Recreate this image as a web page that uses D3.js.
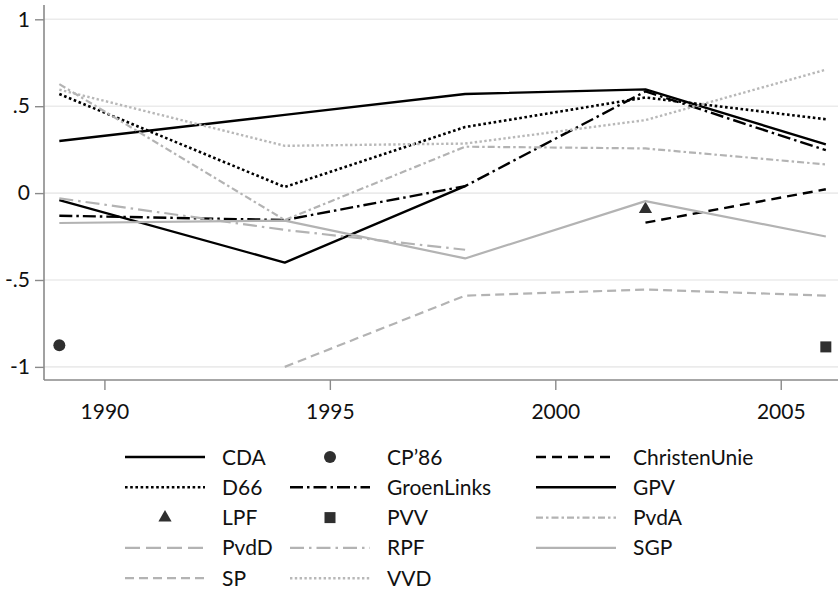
<!DOCTYPE html>
<html><head><meta charset="utf-8">
<script src="https://cdn.jsdelivr.net/npm/d3@7"></script>
<style>body{margin:0;background:#fff}svg{display:block}text{font-family:Lato,"Open Sans",sans-serif;fill:#111}</style>
</head><body><svg id="c" width="838" height="592"></svg>
<script>
const years = [1989, 1994, 1998, 2002, 2006];
const CDA          = [0.30, 0.45, 0.57, 0.597, 0.28];
const CP86         = [-0.875, null, null, null, null];
const ChristenUnie = [null, null, null, -0.17, 0.022];
const D66          = [0.57, 0.035, 0.38, 0.55, 0.425];
const GroenLinks   = [-0.13, -0.155, 0.04, 0.585, 0.247];
const GPV          = [-0.04, -0.40, 0.04, null, null];
const LPF          = [null, null, null, -0.092, null];
const PVV          = [null, null, null, null, -0.885];
const PvdA         = [0.627, -0.155, 0.267, 0.257, 0.165];
const PvdD         = [null, null, null, null, null];
const RPF          = [-0.03, -0.212, -0.326, null, null];
const SGP          = [-0.172, -0.158, -0.376, -0.046, -0.25];
const SP           = [null, -1.0, -0.59, -0.555, -0.59];
const VVD          = [0.595, 0.272, 0.285, 0.42, 0.71];

const partyNames = ["CDA","CP\u201986","ChristenUnie","D66","GroenLinks","GPV","LPF","PVV","PvdA","PvdD","RPF","SGP","SP","VVD"];
const partyValues = [CDA,CP86,ChristenUnie,D66,GroenLinks,GPV,LPF,PVV,PvdA,PvdD,RPF,SGP,SP,VVD];
const yTickValues = [-1, -0.5, 0, 0.5, 1];
const yTickLabels = ["-1", "-.5", "0", ".5", "1"];
const xTickValues = [1990, 1995, 2000, 2005];

const black = "#000", gray = "#b3b3b3", mark = "#2f2f2f";
const styles = {
  "CDA":          {type:"line", color:black, w:2.4, dash:null},
  "CP\u201986":   {type:"circle"},
  "ChristenUnie": {type:"line", color:black, w:2.4, dash:"10,6"},
  "D66":          {type:"line", color:black, w:2.6, dash:"2.6,2.6"},
  "GroenLinks":   {type:"line", color:black, w:2.4, dash:"13,4,2.5,4"},
  "GPV":          {type:"line", color:black, w:2.4, dash:null},
  "LPF":          {type:"triangle"},
  "PVV":          {type:"square"},
  "PvdA":         {type:"line", color:gray, w:2.2, dash:"7,3,2.5,3"},
  "PvdD":         {type:"line", color:gray, w:2.2, dash:"15,6"},
  "RPF":          {type:"line", color:gray, w:2.2, dash:"14,5,2.5,5"},
  "SGP":          {type:"line", color:gray, w:2.2, dash:null},
  "SP":           {type:"line", color:gray, w:2.2, dash:"9,5"},
  "VVD":          {type:"line", color:"#b8b8b8", w:2.4, dash:"2.4,2.4"}
};

const svg = d3.select("#c");
const L = 44, R = 838, T = 5, B = 380;
const x = d3.scaleLinear().domain([1988.66, 2006.27]).range([L, R]);
const y = d3.scaleLinear().domain([-1.0755, 1.0823]).range([B, T]);

// grid
svg.append("g").selectAll("line").data(yTickValues).join("line")
  .attr("x1", L).attr("x2", R).attr("y1", d => y(d)).attr("y2", d => y(d))
  .attr("stroke", "#ebebeb").attr("stroke-width", 1.6);

// axes
const axColor = "#8a8a8a";
const gy = svg.append("g").attr("transform", `translate(${L},0)`)
  .call(d3.axisLeft(y).tickValues(yTickValues).tickFormat((d,i) => yTickLabels[i]).tickSize(9).tickPadding(5));
const gx = svg.append("g").attr("transform", `translate(0,${B})`)
  .call(d3.axisBottom(x).tickValues(xTickValues).tickFormat(d3.format("d")).tickSize(10).tickPadding(14));
[gy, gx].forEach(g => {
  g.select(".domain").remove();
  g.selectAll(".tick line").attr("stroke", axColor).attr("stroke-width", 1.4);
  g.selectAll(".tick text").attr("font-size", 21).attr("font-family", "Lato").attr("fill", "#111");
});
svg.append("line").attr("x1", L).attr("x2", L).attr("y1", T).attr("y2", B).attr("stroke", axColor).attr("stroke-width", 1.6);
svg.append("line").attr("x1", L).attr("x2", R).attr("y1", B).attr("y2", B).attr("stroke", axColor).attr("stroke-width", 1.6);

// series
const plot = svg.append("g");
const lineGen = d3.line().defined(d => d.v !== null).x(d => x(d.year)).y(d => y(d.v));
function drawMarker(g, type, cx, cy) {
  if (type === "circle") g.append("circle").attr("cx", cx).attr("cy", cy).attr("r", 6).attr("fill", mark);
  else if (type === "square") g.append("rect").attr("x", cx - 5.5).attr("y", cy - 5.5).attr("width", 11).attr("height", 11).attr("fill", mark);
  else if (type === "triangle") g.append("path").attr("d", d3.symbol().type(d3.symbolTriangle).size(75)()).attr("transform", `translate(${cx},${cy})`).attr("fill", mark);
}
partyNames.forEach((name, i) => {
  const st = styles[name];
  const pts = years.map((yr, j) => ({year: yr, v: partyValues[i][j]}));
  if (st.type === "line") {
    plot.append("path").datum(pts).attr("d", lineGen).attr("fill", "none")
      .attr("stroke", st.color).attr("stroke-width", st.w)
      .attr("stroke-dasharray", st.dash).attr("stroke-linejoin", "round");
  } else {
    pts.filter(p => p.v !== null).forEach(p => drawMarker(plot, st.type, x(p.year), y(p.v)));
  }
});

// legend
const textX = [222, 387, 633], sampleW = 80, sampleGap = 17, rowY0 = 457, rowH = 30.3;
const leg = svg.append("g");
partyNames.forEach((name, i) => {
  const st = styles[name];
  const tx = textX[i % 3], cx = tx - sampleGap - sampleW, cy = rowY0 + Math.floor(i / 3) * rowH;
  if (st.type === "line") {
    leg.append("line").attr("x1", cx).attr("x2", cx + sampleW).attr("y1", cy).attr("y2", cy)
      .attr("stroke", st.color).attr("stroke-width", st.w).attr("stroke-dasharray", st.dash);
  } else {
    drawMarker(leg, st.type, cx + sampleW / 2, cy);
  }
  leg.append("text").attr("x", tx).attr("y", cy).attr("dy", "0.36em")
    .attr("font-size", 21).text(name);
});
</script></body></html>
